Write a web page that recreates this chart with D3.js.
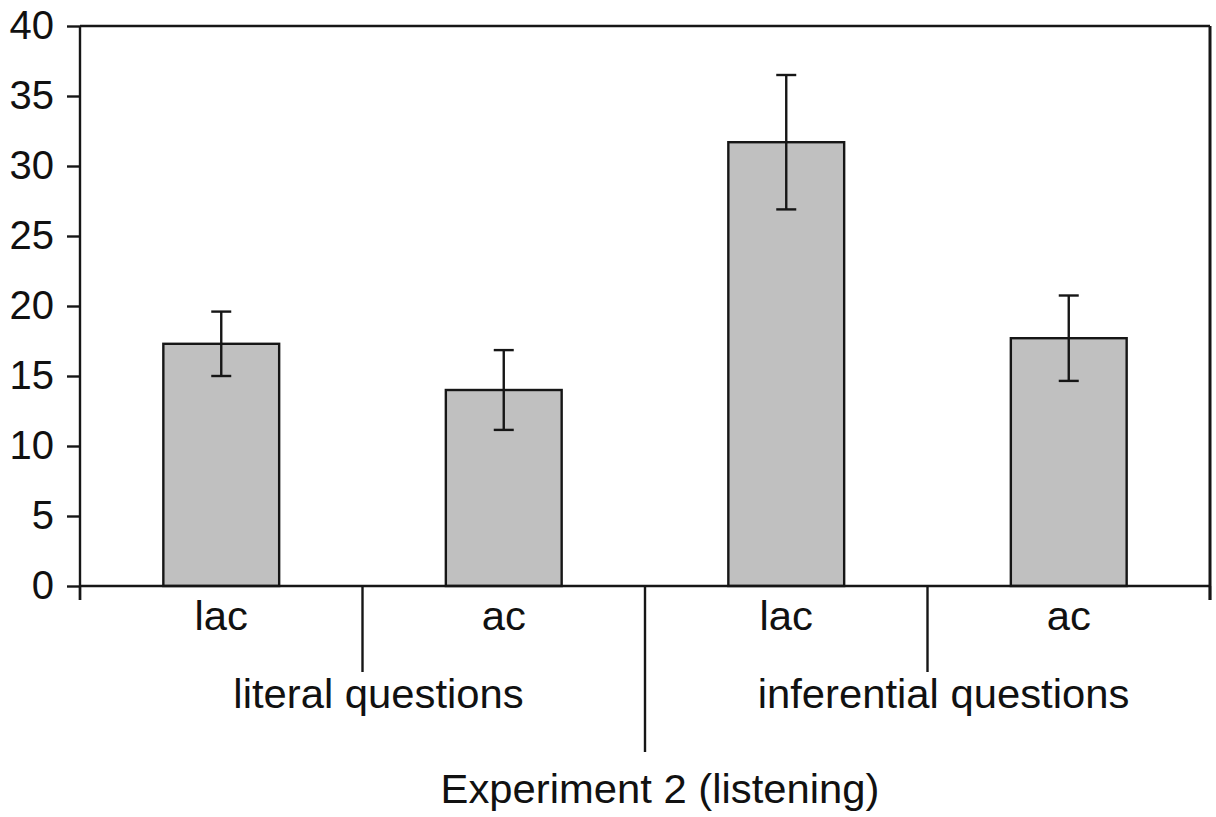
<!DOCTYPE html>
<html>
<head>
<meta charset="utf-8">
<script src="https://cdn.jsdelivr.net/npm/d3@7"></script>
<style>
  html, body { margin: 0; padding: 0; background: #fff; }
  svg { display: block; }
  text { font-family: "Liberation Sans", Arial, sans-serif; fill: #111; }
</style>
</head>
<body>
<svg id="chart" width="1216" height="817"></svg>
<script>
// ---- data ----
const categories = ["lac", "ac", "lac", "ac"];
const groups = ["literal questions", "inferential questions"];
const means = [17.3, 14.0, 31.7, 17.7];
const errors = [2.3, 2.85, 4.8, 3.05];
const yTicks = [0, 5, 10, 15, 20, 25, 30, 35, 40];
const axisTitle = "Experiment 2 (listening)";

(function () {
// ---- layout ----
const mLeft = 80, mRight = 1210, mTop = 26, mBottom = 586;
const ink = "#161616", sw = 2.4;
const svg = d3.select("#chart");

const x = d3.scaleBand()
  .domain(d3.range(categories.length))
  .range([mLeft, mRight])
  .paddingInner(0.59)
  .paddingOuter(0.295);
const step = (mRight - mLeft) / categories.length;
const y = d3.scaleLinear().domain([0, 40]).range([mBottom, mTop]);

// bars
svg.append("g").selectAll("rect")
  .data(means)
  .join("rect")
  .attr("x", (d, i) => x(i))
  .attr("y", d => y(d))
  .attr("width", x.bandwidth())
  .attr("height", d => y(0) - y(d))
  .attr("fill", "#c0c0c0")
  .attr("stroke", ink)
  .attr("stroke-width", sw);

// error bars
const eg = svg.append("g").attr("stroke", ink).attr("stroke-width", sw);
means.forEach((m, i) => {
  const cx = x(i) + x.bandwidth() / 2;
  const hi = y(m + errors[i]), lo = y(m - errors[i]);
  eg.append("line").attr("x1", cx).attr("x2", cx).attr("y1", hi).attr("y2", lo);
  eg.append("line").attr("x1", cx - 10).attr("x2", cx + 10).attr("y1", hi).attr("y2", hi);
  eg.append("line").attr("x1", cx - 10).attr("x2", cx + 10).attr("y1", lo).attr("y2", lo);
});

// frame: top and right borders
svg.append("line").attr("x1", mLeft).attr("x2", mRight).attr("y1", mTop).attr("y2", mTop)
  .attr("stroke", ink).attr("stroke-width", sw);
svg.append("line").attr("x1", mRight).attr("x2", mRight).attr("y1", mTop).attr("y2", mBottom + 14)
  .attr("stroke", ink).attr("stroke-width", 3);

// y axis
const yAxis = svg.append("g")
  .attr("transform", `translate(${mLeft},0)`)
  .call(d3.axisLeft(y).tickValues(yTicks).tickSize(13).tickPadding(13));
yAxis.select(".domain").remove();
yAxis.selectAll(".tick line").attr("stroke", ink).attr("stroke-width", sw);
yAxis.selectAll(".tick text").attr("font-size", 40).attr("fill", "#111")
  .attr("font-family", "Liberation Sans, Arial, sans-serif");
svg.append("line").attr("x1", mLeft).attr("x2", mLeft).attr("y1", mTop).attr("y2", mBottom + 14)
  .attr("stroke", ink).attr("stroke-width", sw);

// x axis baseline
svg.append("line").attr("x1", mLeft).attr("x2", mRight).attr("y1", mBottom).attr("y2", mBottom)
  .attr("stroke", ink).attr("stroke-width", sw);

// category separators (multi-level)
const sepLen = [14, 86, 166, 86, 14];
sepLen.forEach((len, i) => {
  const sx = mLeft + i * step;
  svg.append("line").attr("x1", sx).attr("x2", sx).attr("y1", mBottom).attr("y2", mBottom + len)
    .attr("stroke", ink).attr("stroke-width", sw);
});

const stretch = 1.045;
// category labels
svg.append("g").selectAll("text")
  .data(categories)
  .join("text")
  .attr("transform", (d, i) => `translate(${x(i) + x.bandwidth() / 2},630) scale(${stretch},1)`)
  .attr("text-anchor", "middle")
  .attr("font-size", 40)
  .text(d => d);

// group labels
svg.append("g").selectAll("text")
  .data(groups)
  .join("text")
  .attr("transform", (d, i) => `translate(${mLeft + step * (2 * i + 1) + 16},708) scale(${stretch},1)`)
  .attr("text-anchor", "middle")
  .attr("font-size", 40)
  .text(d => d);

// axis title
svg.append("text")
  .attr("transform", `translate(${(mLeft + mRight) / 2 + 15},803) scale(${stretch},1)`)
  .attr("text-anchor", "middle")
  .attr("font-size", 40)
  .text(axisTitle);
})();
</script>
</body>
</html>
